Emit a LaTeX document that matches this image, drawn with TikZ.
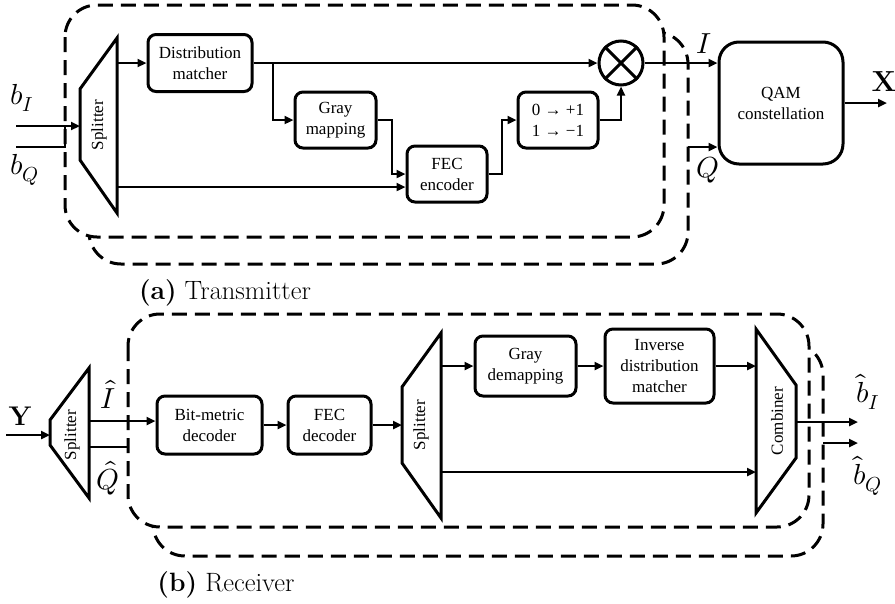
\documentclass[tikz,border=0pt]{standalone}
\usepackage{fontspec}
\usepackage{unicode-math}
\setmathfont{Latin Modern Math}
\newfontfamily\tnr{Liberation Serif}
\usetikzlibrary{arrows.meta}
\tikzset{
  conn/.style={line width=2.6pt, -{Triangle[length=9pt,width=8pt]}},
  plain/.style={line width=2.6pt},
  blk/.style={draw, line width=3pt, rounded corners=8pt, font=\tnr\fontsize{17}{21}\selectfont, align=center, inner sep=0pt},
  dbox/.style={draw, line width=3pt, dash pattern=on 15pt off 8pt, rounded corners=32pt, fill=white},
  trap/.style={draw, line width=3pt, line join=miter},
  rot/.style={rotate=90, font=\tnr\fontsize{17}{20}\selectfont, inner sep=0pt},
  mlab/.style={font=\fontsize{29}{33}\selectfont, inner sep=0pt},
  caption/.style={font=\fontsize{26.5}{30}\selectfont, inner sep=0pt}
}
\begin{document}
\begin{tikzpicture}[x=1pt,y=-1pt]
\useasboundingbox (0,0) rectangle (895,603);
% ---------------- Transmitter ----------------
\draw[dbox] (89,32) rectangle (688,264);
\draw[dbox] (65,5) rectangle (664,237);

\draw[trap] (80,89) coordinate (s1a) -- (117,38) coordinate (s1b) -- (117,213) coordinate (s1c) -- (80,160) coordinate (s1d) -- cycle;
\node[rot] (s1t) at (99,125) {Splitter};

\node[blk, minimum width=104pt, minimum height=57pt] (dm) at (200,63) {Distribution\\matcher};
\node[blk, minimum width=81pt, minimum height=56pt] (gm) at (335.5,120) {Gray\\mapping};
\node[blk, minimum width=80pt, minimum height=56pt] (fec) at (447,174) {FEC\\encoder};
\node[blk, minimum width=80pt, minimum height=56pt] (pm) at (558,120) {0 → +1\\1 → −1};
\node[draw, circle, line width=3pt, minimum size=44pt, inner sep=0pt] (mult) at (621,63) {};
\draw[line width=3pt] (mult.north west) -- (mult.south east);
\draw[line width=3pt] (mult.north east) -- (mult.south west);
\node[blk, rounded corners=20pt, minimum width=124pt, minimum height=122pt] (qam) at (781,103) {QAM\\constellation};

\coordinate (bIin) at (16,126);
\coordinate (s1in) at (80,126);
\draw[conn] (bIin) -- (s1in);
\coordinate (bQin) at (16,147);
\coordinate (bQj) at (65,147);
\coordinate (bQk) at (65,126);
\draw[plain] (bQin) -- (bQj) -- (bQk);

\coordinate (s1o1) at (117,63);
\draw[conn] (s1o1) -- (s1o1 -| dm.west);
\coordinate (s1o2) at (117,187);
\draw[conn] (s1o2) -- (s1o2 -| fec.west);
\draw[conn] (dm.east) -- (mult.west);
\coordinate (br) at (273,63);
\draw[conn] (br) |- (gm.west);
\coordinate (g2f) at (392,120);
\draw[conn] (gm.east) -- (g2f) |- (fec.west);
\coordinate (f2p) at (502,174);
\draw[conn] (fec.east) -- (f2p) |- (pm.west);
\draw[conn] (pm.east) -| (mult.south);
\draw[conn] (mult.east) -- (mult.east -| qam.west);
\coordinate (Qs) at (688,147);
\draw[conn] (Qs) -- (Qs -| qam.west);
\coordinate (Xo) at (887,103);
\draw[conn] (qam.east) -- (Xo);

\node[mlab] (lbI) at (22,98) {$b_I$};
\node[mlab] (lbQ) at (25,170) {$b_Q$};
\node[mlab] (lI) at (704,44) {$I$};
\node[mlab] (lQ) at (708,170) {$Q$};
\node[mlab] (lX) at (884,82) {$\mathbf{X}$};

\node[caption] (capa) at (225,293) {\textbf{(a)} Transmitter};

% ---------------- Receiver ----------------
\draw[dbox] (153,343) rectangle (823,556);
\draw[dbox] (128,314) rectangle (809,527);

\draw[trap] (50,420) -- (89,368) -- (89,498) -- (50,445) -- cycle;
\node[rot] (s2t) at (72,435) {Splitter};

\node[blk, minimum width=105pt, minimum height=58pt] (bmd) at (209.5,425) {Bit-metric\\decoder};
\node[blk, minimum width=83pt, minimum height=58pt] (fecd) at (329.5,425) {FEC\\decoder};

\draw[trap] (402,387) -- (441,333) -- (441,518) -- (402,463) -- cycle;
\node[rot] (s3t) at (421,425) {Splitter};

\node[blk, minimum width=101pt, minimum height=60pt] (gdm) at (525.5,366) {Gray\\demapping};
\node[blk, minimum width=109pt, minimum height=74pt] (idm) at (659.5,366) {Inverse\\distribution\\matcher};

\draw[trap] (756,329) -- (796,385) -- (796,458) -- (756,513) -- cycle;
\node[rot] (combt) at (777,421) {Combiner};

\coordinate (Yin) at (6,435);
\coordinate (s2in) at (50,435);
\draw[conn] (Yin) -- (s2in);
\coordinate (s2I) at (89,421);
\draw[conn] (s2I) -- (s2I -| bmd.west);
\coordinate (s2Q) at (89,447);
\coordinate (s2Qe) at (128,447);
\draw[plain] (s2Q) -- (s2Qe);
\draw[conn] (bmd.east) -- (fecd.west);
\coordinate (s3in) at (402,425);
\draw[conn] (fecd.east) -- (s3in);
\coordinate (s3o1) at (441,366);
\draw[conn] (s3o1) -- (s3o1 -| gdm.west);
\draw[conn] (gdm.east) -- (idm.west);
\coordinate (cin1) at (756,366);
\draw[conn] (idm.east) -- (cin1);
\coordinate (s3o2) at (441,472);
\coordinate (cin2) at (756,472);
\draw[conn] (s3o2) -- (cin2);
\coordinate (cout) at (796,422);
\coordinate (bIout) at (858,422);
\draw[conn] (cout) -- (bIout);
\coordinate (bQs) at (823,443);
\coordinate (bQout) at (858,443);
\draw[conn] (bQs) -- (bQout);

\node[mlab, font=\fontsize{27}{31}\selectfont] (lY) at (20,416) {$\mathbf{Y}$};
\node[mlab] (lIh) at (108,394) {$\hat{I}$};
\node[mlab] (lQh) at (108,478) {$\hat{Q}$};
\node[mlab] (lbIh) at (868,392) {$\hat{b}_I$};
\node[mlab] (lbQh) at (868,476) {$\hat{b}_Q$};

\node[caption] (capb) at (226,585) {\textbf{(b)} Receiver};
\end{tikzpicture}
\end{document}
